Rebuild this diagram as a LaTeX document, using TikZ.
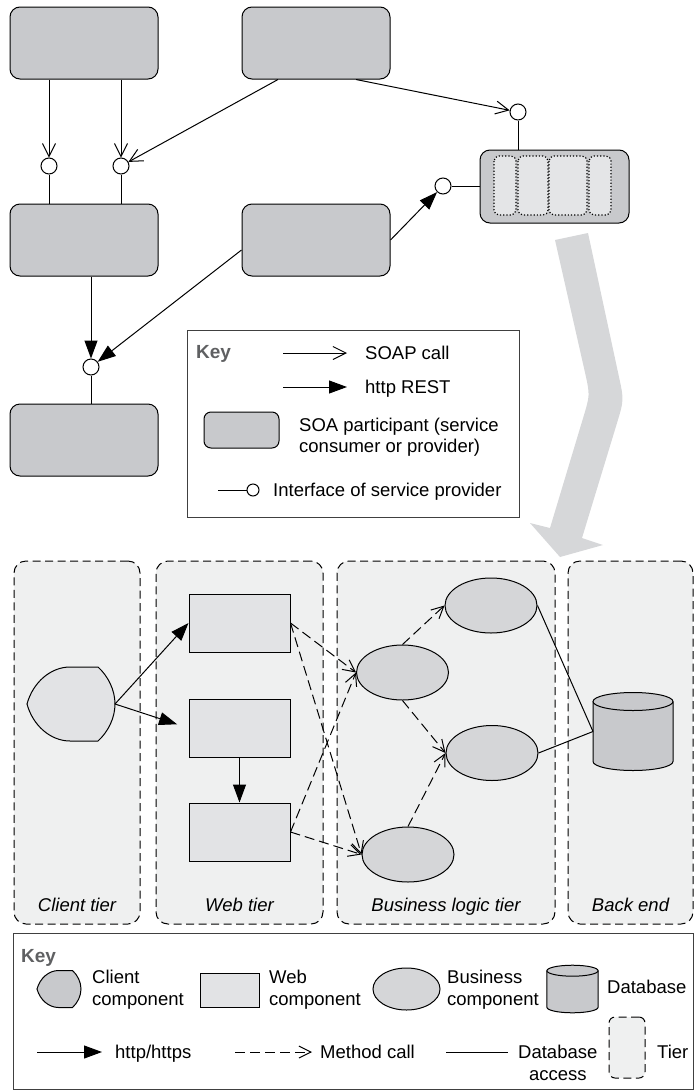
\documentclass[tikz,border=0pt]{standalone}
\usepackage{fontspec}
\setmainfont{Liberation Sans}
\usetikzlibrary{arrows.meta,shapes.geometric,calc}
\definecolor{soagray}{RGB}{200,201,204}
\definecolor{slotgray}{RGB}{228,229,231}
\definecolor{lanegray}{RGB}{239,240,240}
\definecolor{webgray}{RGB}{226,227,229}
\definecolor{bizgray}{RGB}{213,214,216}
\definecolor{flowgray}{RGB}{214,215,217}
\definecolor{keygray}{RGB}{95,96,98}
\begin{document}
\begin{tikzpicture}[x=1pt,y=-1pt]
	\tikzset{participant/.style = {shape=rectangle,draw,fill=soagray,rounded corners=10pt,line width=1pt,minimum width=148pt,minimum height=72pt}}
	\tikzset{iface/.style = {shape=circle,draw,fill=white,line width=1pt,minimum size=16pt,inner sep=0pt}}
	\tikzset{soap/.style = {-{Straight Barb[length=13pt,width=13pt]},line width=1pt}}
	\tikzset{rest/.style = {-{Triangle[length=18pt,width=13pt]},line width=1pt}}
	\tikzset{tier/.style = {shape=rectangle,draw,fill=lanegray,rounded corners=12pt,dash pattern=on 8pt off 4.5pt,line width=1pt}}
	\tikzset{webcomp/.style = {shape=rectangle,draw,fill=webgray,line width=1pt,minimum width=101pt,minimum height=58pt}}
	\tikzset{bizcomp/.style = {shape=ellipse,draw,fill=bizgray,line width=1pt,minimum width=92pt,minimum height=55pt,inner sep=0pt}}
	\tikzset{methodcall/.style = {-{Straight Barb[length=12pt,width=12pt]},dash pattern=on 10pt off 5pt,line width=1pt}}
	\tikzset{dbaccess/.style = {line width=1pt}}
	\tikzset{txt/.style = {inner sep=0pt,align=left,font=\fontsize{18.5}{21.5}\selectfont}}
	\tikzset{tiername/.style = {anchor=base,inner sep=0pt,font=\fontsize{18.5}{21.5}\selectfont\itshape}}
	\tikzset{keytitle/.style = {anchor=base west,inner sep=0pt,text=keygray,font=\fontsize{19}{22}\selectfont\bfseries}}
	\tikzset{keybox/.style = {shape=rectangle,draw=black!75,line width=1pt}}
	\tikzset{pics/clientcomp/.style = {code={
		\draw[line width=1pt,fill=#1] (-1,-37) -- (27,-37) .. controls (37,-28) and (44,-14) .. (44,0) .. controls (44,14) and (37,28) .. (27,37) -- (-1,37) .. controls (-20,37) and (-38,22) .. (-44,0) .. controls (-38,-22) and (-20,-37) .. (-1,-37) -- cycle;
		\coordinate (-east) at (44,0);
	}}, pics/clientcomp/.default=webgray}
	\tikzset{pics/database/.style = {code={
		\draw[line width=1pt,fill=soagray] (-40,-30) -- (-40,30) arc[start angle=180,end angle=0,x radius=40,y radius=9] -- (40,-30);
		\draw[line width=1pt,fill=soagray] (0,-30) ellipse[x radius=40,y radius=9];
		\coordinate (-west) at (-40,0);
	}}}
	\useasboundingbox (0,0) rectangle (698,1090);

	\fill[flowgray] (588,233) -- (555,240) -- (585,372.5) .. controls (590,395) .. (583.4,417) -- (550,528) -- (530,523) -- (560,557) -- (603,545) -- (582,538) -- (616.7,424) .. controls (624,400) .. (618.7,375.6) -- cycle;

	\node[participant] (p1) at (84,43) {};
	\node[participant] (p2) at (316,43) {};
	\node[participant] (p3) at (84,240) {};
	\node[participant] (p4) at (316,240) {};
	\node[participant] (p5) at (84,440) {};
	\node[participant,minimum width=149pt,minimum height=73pt] (p6) at (554.5,186.5) {};
	\draw[dotted,line width=1.2pt,fill=slotgray,rounded corners=5pt] (494,156) rectangle (516,215);
	\draw[dotted,line width=1.2pt,fill=slotgray,rounded corners=5pt] (518,156) rectangle (548,215);
	\draw[dotted,line width=1.2pt,fill=slotgray,rounded corners=5pt] (549,156) rectangle (587,215);
	\draw[dotted,line width=1.2pt,fill=slotgray,rounded corners=5pt] (589,156) rectangle (611,215);

	\node[iface] (if1) at (49,166) {};
	\node[iface] (if2) at (121,166) {};
	\node[iface] (if3) at (518,112) {};
	\node[iface] (if4) at (443,186) {};
	\node[iface] (if5) at (91,367) {};
	\draw[soap] (if1 |- p1.south) -- (if1);
	\draw[soap] (if2 |- p1.south) -- (if2);
	\draw[soap] ($(p2.south)+(-38,0)$) -- (if2);
	\draw[soap] ($(p2.south)+(40,0)$) -- (if3);
	\draw[rest] (p4.east) -- (if4);
	\draw[rest] ($(p4.west)+(0,10)$) -- (if5);
	\draw[rest] (if5 |- p3.south) -- (if5);
	\draw[line width=1pt] (if1) -- (if1 |- p3.north);
	\draw[line width=1pt] (if2) -- (if2 |- p3.north);
	\draw[line width=1pt] (if3) -- (if3 |- p6.north);
	\draw[line width=1pt] (if4) -- (if4 -| p6.west);
	\draw[line width=1pt] (if5) -- (if5 |- p5.north);

	\node[keybox,minimum width=332pt,minimum height=187pt] (soakey) at (353,423.5) {};
	\node[keytitle] (soakeyt) at (196,358) {Key};
	\coordinate (soapa) at (283,353);
	\coordinate (soapb) at (347,353);
	\draw[soap] (soapa) -- (soapb);
	\node[txt,anchor=base west] (soapt) at (365,359.5) {SOAP call};
	\coordinate (resta) at (283,387);
	\coordinate (restb) at (347,387);
	\draw[rest] (resta) -- (restb);
	\node[txt,anchor=base west] (restt) at (365,393.5) {http REST};
	\node[participant,rounded corners=7pt,minimum width=75pt,minimum height=36pt] (kp) at (241.5,430) {};
	\node[txt,anchor=west] (kpt) at (299,437) {SOA participant (service\\consumer or provider)};
	\coordinate (kifa) at (218,490);
	\node[iface,minimum size=12pt] (kif) at (253,490) {};
	\draw[line width=1pt] (kifa) -- (kif);
	\node[txt,anchor=base west] (kift) at (273,496.5) {Interface of service provider};

	\node[tier,minimum width=126pt,minimum height=363pt] (clienttier) at (77,742.5) {};
	\node[tier,minimum width=167pt,minimum height=363pt] (webtier) at (239.5,742.5) {};
	\node[tier,minimum width=218pt,minimum height=363pt] (biztier) at (446,742.5) {};
	\node[tier,minimum width=125pt,minimum height=363pt] (backtier) at (630.5,742.5) {};
	\node[tiername] (clienttiert) at (77,911) {Client tier};
	\node[tiername] (webtiert) at (239.5,911) {Web tier};
	\node[tiername] (biztiert) at (446,911) {Business logic tier};
	\node[tiername] (backtiert) at (630.5,911) {Back end};

	\pic (cl) at (71,704) {clientcomp};
	\node[webcomp] (w1) at (239.5,623) {};
	\node[webcomp] (w2) at (239.5,728) {};
	\node[webcomp] (w3) at (239.5,832) {};
	\node[bizcomp] (bc1) at (491,605.5) {};
	\node[bizcomp] (bc2) at (402.5,672.5) {};
	\node[bizcomp] (bc3) at (492,753) {};
	\node[bizcomp] (bc4) at (408,854.5) {};
	\pic (db) at (633,731.5) {database};
	\draw[rest] (cl-east) -- (w1.west);
	\draw[rest,shorten >=12pt] (cl-east) -- (w2.west);
	\draw[rest] (w2) -- (w3);
	\draw[methodcall] (w1.east) -- (bc2.west);
	\draw[methodcall] (w1.east) -- (bc4.west);
	\draw[methodcall] (w3.east) -- (bc2.west);
	\draw[methodcall] (w3.east) -- (bc4.west);
	\draw[methodcall] (bc2.north) -- (bc1.west);
	\draw[methodcall] (bc2.south) -- (bc3.west);
	\draw[methodcall] (bc4.north) -- (bc3.west);
	\draw[dbaccess] (bc1.east) -- (db-west);
	\draw[dbaccess] (bc3.east) -- (db-west);

	\node[keybox,minimum width=680pt,minimum height=156pt] (tierkey) at (353,1011) {};
	\node[keytitle] (tierkeyt) at (21,962) {Key};
	\pic[scale=0.5] (kcl) at (59,989) {clientcomp=soagray};
	\node[txt,anchor=west] (kclt) at (92,989.5) {Client\\component};
	\node[webcomp,minimum width=59pt,minimum height=34pt] (kweb) at (229.5,990) {};
	\node[txt,anchor=west] (kwebt) at (269,989.5) {Web\\component};
	\node[bizcomp,minimum width=67pt,minimum height=42pt] (kbiz) at (406.5,989) {};
	\node[txt,anchor=west] (kbizt) at (447,989.5) {Business\\component};
	\pic[xscale=0.64,yscale=0.61] (kdb) at (572.5,989) {database};
	\node[txt,anchor=base west] (kdbt) at (607,993.5) {Database};
	\coordinate (khttpa) at (37,1052);
	\coordinate (khttpb) at (102,1052);
	\draw[rest] (khttpa) -- (khttpb);
	\node[txt,anchor=base west] (khttpt) at (115,1058.5) {http/https};
	\coordinate (kmca) at (235,1052);
	\coordinate (kmcb) at (312,1052);
	\draw[methodcall] (kmca) -- (kmcb);
	\node[txt,anchor=base west] (kmct) at (320,1058.5) {Method call};
	\coordinate (kdba) at (446,1052);
	\coordinate (kdbb) at (508,1052);
	\draw[dbaccess] (kdba) -- (kdbb);
	\node[txt,anchor=west,align=center] (kdbat) at (518,1063) {Database\\access};
	\node[tier,rounded corners=6pt,minimum width=36pt,minimum height=61pt] (ktier) at (627,1047.5) {};
	\node[txt,anchor=base west] (ktiert) at (657,1058.5) {Tier};
\end{tikzpicture}
\end{document}
